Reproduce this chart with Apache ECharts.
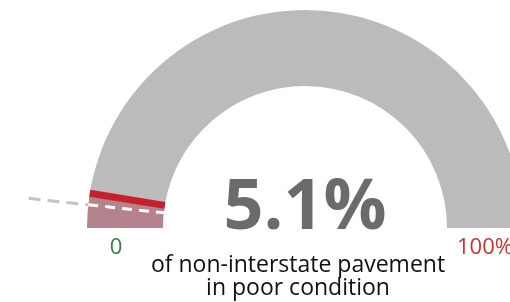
<!DOCTYPE html>
<html><head><meta charset="utf-8">
<script src="https://cdn.jsdelivr.net/npm/echarts@6/dist/echarts.min.js"></script>
<style>html,body{margin:0;padding:0;background:#fff}#c{width:510px;height:302px}</style>
</head><body><div id="c"></div>
<script>
const gaugeValue = 5.1;          // % of non-interstate pavement in poor condition
const referenceValue = 3.4;      // dashed marker
const scaleMin = 0, scaleMax = 100;
const minLabel = '0', maxLabel = '100%';
const subtitleLines = ['of non-interstate pavement', 'in poor condition'];

const FONT = '"Open Sans", sans-serif';
const chart = echarts.init(document.getElementById('c'), null, {renderer: 'canvas'});
const C = [305, 228], R = 218;
const ringW = 76;
const base = {
  type: 'gauge', center: C, radius: R, startAngle: 180, endAngle: 0,
  min: scaleMin, max: scaleMax,
  splitLine: {show: false}, axisTick: {show: false}, axisLabel: {show: false},
  title: {show: false}, detail: {show: false}, anchor: {show: false}, animation: false
};
const dashInner = 'path://M0 0H2V10H0Z M0 17H2V27H0Z M0 34H2V44H0Z M0 51H2V61H0Z M0 68H2V76H0Z';
const dashOuter = 'path://M0 0H2V12H0Z M0 19H2V31H0Z M0 38H2V50H0Z M0 57H2V60H0Z';
chart.setOption({
  animation: false,
  series: [
    Object.assign({}, base, {
      axisLine: {lineStyle: {width: ringW, color: [[gaugeValue / scaleMax, '#b5838d'], [1, '#bbbbbb']]}},
      pointer: {show: true, icon: 'rect', width: 7, length: ringW, offsetCenter: [0, -(R - ringW)], itemStyle: {color: '#c8202a'}},
      detail: {show: true, formatter: '{value}%', offsetCenter: [0, -19], fontSize: 70, fontWeight: 'bold', fontFamily: FONT, color: '#6b6b6b'},
      data: [{value: gaugeValue}]
    }),
    Object.assign({}, base, {
      axisLine: {show: false},
      pointer: {show: true, icon: dashInner, keepAspect: false, width: 3, length: ringW, offsetCenter: [0, -(R - ringW)], itemStyle: {color: '#ffffff'}},
      data: [{value: referenceValue}]
    }),
    Object.assign({}, base, {
      axisLine: {show: false},
      pointer: {show: true, icon: dashOuter, keepAspect: false, width: 3, length: 60, offsetCenter: [0, -R], itemStyle: {color: '#c4c4c4'}},
      data: [{value: referenceValue}]
    })
  ],
  graphic: [
    {type: 'text', x: 116, y: 248, style: {text: minLabel, font: '22px ' + FONT, fill: '#2e8540', align: 'center', verticalAlign: 'middle'}},
    {type: 'text', x: 457, y: 248, style: {text: maxLabel, font: '22px ' + FONT, fill: '#d0312d', align: 'left', verticalAlign: 'middle'}},
    {type: 'text', x: 298, y: 254, style: {text: subtitleLines.join('\n'), font: '23px ' + FONT, lineHeight: 23, fill: '#111111', align: 'center', verticalAlign: 'top'}}
  ]
});
</script></body></html>
